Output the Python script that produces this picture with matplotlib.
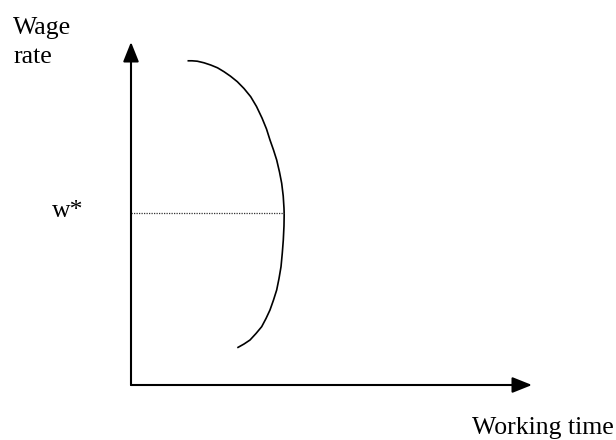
import matplotlib
matplotlib.use("Agg")
import matplotlib.pyplot as plt

# Backward-bending labour supply curve (axis units 0..100)
working_time = [14.09, 15.21, 16.53, 18.20, 19.88, 21.57, 23.19, 24.81, 26.51, 28.18,
                29.85, 31.30, 32.67, 33.79, 34.66, 35.54, 36.33, 37.03, 37.58, 37.96,
                38.15, 38.20, 38.15, 37.98, 37.73, 37.41, 36.91, 36.33, 35.54, 34.66,
                33.67, 32.59, 31.17, 29.68, 28.18, 26.51]
wage_rate = [94.52, 94.52, 94.40, 93.94, 93.29, 92.48, 91.34, 90.03, 88.43, 86.44,
             84.05, 81.20, 77.84, 74.64, 71.43, 68.51, 65.60, 62.10, 58.80, 55.10,
             51.60, 49.85, 46.36, 42.27, 38.48, 34.49, 31.05, 27.70, 24.78, 21.87,
             19.39, 17.00, 15.01, 13.12, 11.95, 10.85]
w_star = 50.0
w_star_time = 38.2

x_label = "Working time"
y_label_lines = ["Wage", "rate"]
w_label = "w*"

W, H = 616, 440
fig = plt.figure(figsize=(W / 100, H / 100), dpi=100)
ax = fig.add_axes([131 / W, (H - 385) / H, (532 - 131) / W, (385 - 42) / H])
ax.set_xlim(0, 100)
ax.set_ylim(0, 100)
ax.axis("off")

arrow = dict(arrowstyle="-|>,head_length=0.75,head_width=0.3", lw=1.5,
             color="black", shrinkA=0, shrinkB=0, mutation_scale=16)
ax.annotate("", xy=(100, 0), xytext=(0, 0), arrowprops=arrow, annotation_clip=False)
ax.annotate("", xy=(0, 100), xytext=(0, 0), arrowprops=arrow, annotation_clip=False)

ax.plot(working_time, wage_rate, color="black", lw=1.2, solid_capstyle="butt",
        solid_joinstyle="round")
ax.plot([0, w_star_time], [w_star, w_star], color="#333333", lw=0.9,
        linestyle=(0, (1, 1)))

font = dict(family="Liberation Serif", fontsize=18.5, color="black")
fig.text(13 / W, (H - 34) / H, y_label_lines[0], va="baseline", ha="left", **font)
fig.text(13 / W, (H - 63) / H, y_label_lines[1], va="baseline", ha="left", **font)
fig.text(52 / W, (H - 217) / H, w_label, va="baseline", ha="left", **font)
fig.text(472 / W, (H - 434) / H, x_label, va="baseline", ha="left", **font)

fig.savefig("out.png", dpi=100)
